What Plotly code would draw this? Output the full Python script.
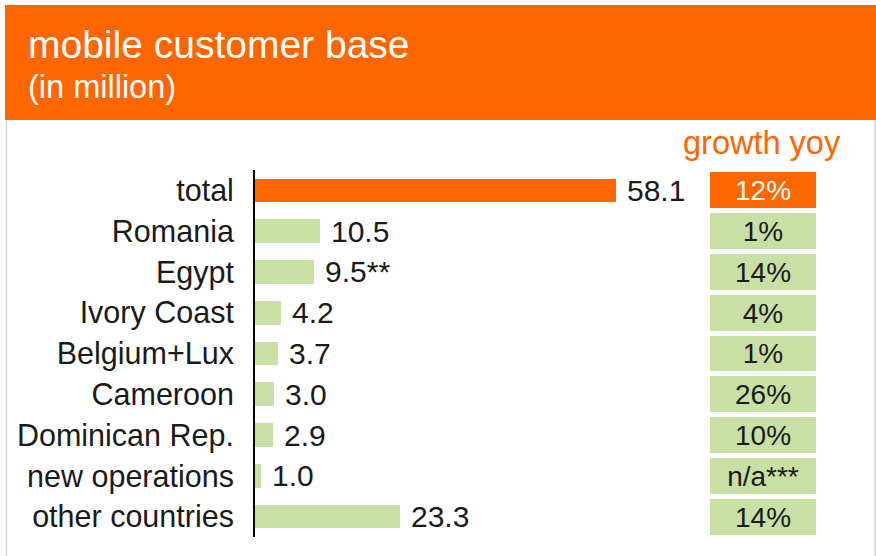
import plotly.graph_objects as go

# Mobile customer base by country (in million) and year-on-year growth
categories = ["total", "Romania", "Egypt", "Ivory Coast", "Belgium+Lux",
              "Cameroon", "Dominican Rep.", "new operations", "other countries"]
customers = [58.1, 10.5, 9.5, 4.2, 3.7, 3.0, 2.9, 1.0, 23.3]
value_labels = ["58.1", "10.5", "9.5**", "4.2", "3.7", "3.0", "2.9", "1.0", "23.3"]
growth_labels = ["12%", "1%", "14%", "4%", "1%", "26%", "10%", "n/a***", "14%"]

ORANGE = "#FF6600"
GREEN = "#C9E0A5"
INK = "#1A1A1A"
FONT = "Liberation Sans, Arial, sans-serif"

W, H = 876, 556

def px_x(x):
    return x / W

def px_y(y):
    return 1 - y / H

bar_colors = [ORANGE] + [GREEN] * (len(categories) - 1)
growth_text_colors = ["white"] + [INK] * (len(categories) - 1)

fig = go.Figure()

fig.add_trace(go.Bar(
    x=customers, y=categories, orientation="h",
    marker=dict(color=bar_colors, line=dict(width=0)),
    width=0.58, hoverinfo="skip", showlegend=False,
    xaxis="x", yaxis="y",
))

# growth boxes on their own small axis at the right
fig.add_trace(go.Bar(
    x=[1] * len(categories), y=categories, orientation="h",
    marker=dict(color=bar_colors, line=dict(width=0)),
    width=0.88, text=growth_labels, textposition="inside",
    insidetextanchor="middle", textangle=0, constraintext="none",
    textfont=dict(family=FONT, size=28, color=growth_text_colors),
    hoverinfo="skip", showlegend=False,
    xaxis="x2", yaxis="y",
))

annotations = []
for cat, val, lab in zip(categories, customers, value_labels):
    annotations.append(dict(
        x=val, y=cat, xref="x", yref="y", text=lab, showarrow=False,
        xanchor="left", yanchor="middle", xshift=9,
        font=dict(family=FONT, size=30, color=INK),
    ))

annotations += [
    dict(x=px_x(26), y=px_y(45), xref="paper", yref="paper",
         text="mobile customer base", showarrow=False,
         xanchor="left", yanchor="middle",
         font=dict(family=FONT, size=39, color="white")),
    dict(x=px_x(26), y=px_y(87), xref="paper", yref="paper",
         text="(in million)", showarrow=False,
         xanchor="left", yanchor="middle",
         font=dict(family=FONT, size=32.5, color="white")),
    dict(x=px_x(843), y=px_y(143), xref="paper", yref="paper",
         text="growth yoy", showarrow=False,
         xanchor="right", yanchor="middle",
         font=dict(family=FONT, size=32.5, color=ORANGE)),
]

shapes = [
    dict(type="rect", xref="paper", yref="paper",
         x0=px_x(5), x1=px_x(W), y0=px_y(120), y1=px_y(5),
         fillcolor=ORANGE, line=dict(width=0), layer="below"),
    dict(type="line", xref="paper", yref="paper",
         x0=px_x(6.5), x1=px_x(6.5), y0=px_y(120), y1=0,
         line=dict(color="#D6D6D6", width=1.5)),
    dict(type="line", xref="paper", yref="paper",
         x0=px_x(875), x1=px_x(875), y0=px_y(120), y1=0,
         line=dict(color="#D6D6D6", width=1.5)),
]

units_per_px = 1 / 6.22
fig.update_layout(
    width=W, height=H,
    margin=dict(l=0, r=0, t=0, b=0),
    paper_bgcolor="white", plot_bgcolor="rgba(0,0,0,0)",
    bargap=0,
    xaxis=dict(domain=[px_x(255), 1], range=[0, (W - 255) * units_per_px],
               visible=False, fixedrange=True),
    xaxis2=dict(domain=[px_x(710), px_x(816)], range=[0, 1], anchor="y",
                visible=False, fixedrange=True),
    yaxis=dict(domain=[px_y(537), px_y(170)], autorange="reversed",
               showline=True, linecolor="black", linewidth=2,
               showgrid=False, zeroline=False, ticks="",
               ticklabelstandoff=13,
               tickfont=dict(family=FONT, size=30.5, color=INK),
               fixedrange=True),
    annotations=annotations,
    shapes=shapes,
    font=dict(family=FONT),
)

fig.write_html("out.html")
